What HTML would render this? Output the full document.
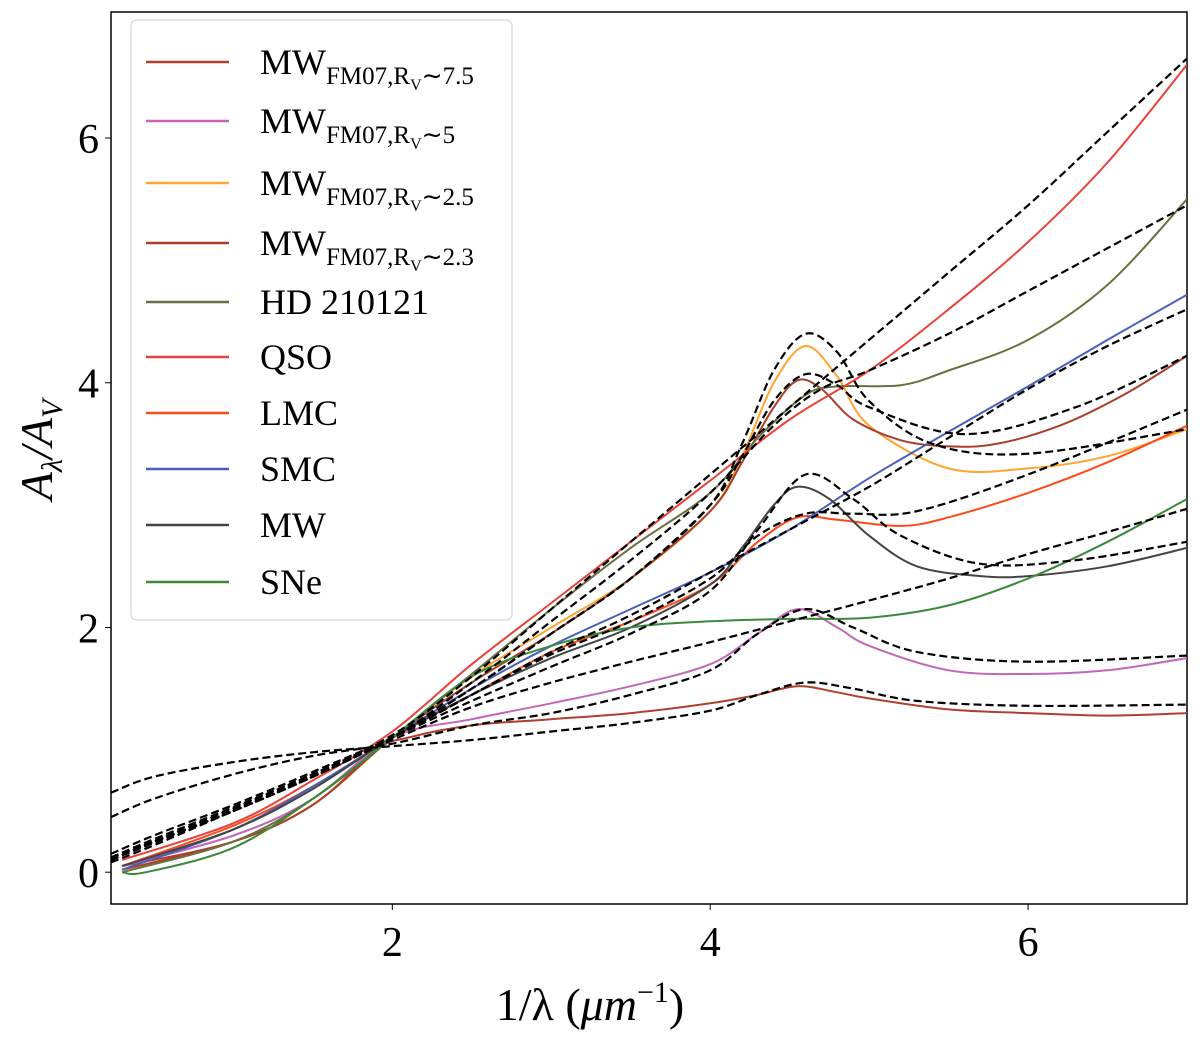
<!DOCTYPE html>
<html><head><meta charset="utf-8"><style>
body{margin:0;background:#fff;}
svg{display:block;font-family:"Liberation Serif",serif;}
</style></head><body>
<svg id="chart" width="1200" height="1043">
<rect x="111" y="12" width="1076" height="892" fill="#fff" stroke="#000" stroke-width="1.5"/>
<g id="curves"></g>
<g id="axes"></g>
<g id="legend"></g>
<text x="590" y="1020" font-size="46" text-anchor="middle">1/λ (<tspan font-style="italic">μm</tspan><tspan font-size="30" dy="-18">−1</tspan><tspan dy="18">)</tspan></text>
<text transform="translate(52,450) rotate(-90)" font-size="46" text-anchor="middle" font-style="italic">A<tspan font-size="30" dy="10">λ</tspan><tspan dy="-10">/A</tspan><tspan font-size="30" dy="10">V</tspan></text>
</svg>
<script>
const xTicks=[2,4,6];
const yTicks=[0,2,4,6];
const names=["MW_FM07_7.5","MW_FM07_5","MW_FM07_2.5","MW_FM07_2.3","HD 210121","QSO","LMC","SMC","MW","SNe"];
const colors=["#b0402e","#c466b8","#ffa530","#a8402b","#6b7040","#e8433a","#fc4a1a","#4a5fb8","#444444","#3a8a3a"];
const s1=[[0.3,0.05],[1,0.25],[1.5,0.55],[1.9,1.0],[2.1,1.1],[2.5,1.2],[3,1.25],[3.5,1.3],[4,1.38],[4.3,1.45],[4.55,1.52],[4.8,1.47],[5,1.42],[5.5,1.33],[6,1.3],[6.5,1.28],[7,1.3]];
const s2=[[0.3,0.05],[1,0.3],[1.5,0.6],[2,1.1],[2.5,1.25],[3,1.38],[3.5,1.52],[4,1.7],[4.3,1.95],[4.55,2.15],[4.8,2.0],[5,1.85],[5.5,1.65],[6,1.62],[6.5,1.65],[7,1.75]];
const s3=[[0.3,0.0],[1,0.25],[1.5,0.55],[2,1.1],[2.5,1.6],[3,2.0],[3.5,2.4],[4,2.95],[4.2,3.4],[4.4,4.0],[4.6,4.3],[4.8,4.05],[5,3.65],[5.5,3.3],[6,3.3],[6.5,3.4],[7,3.62]];
const s4=[[0.3,0.02],[1,0.25],[1.5,0.55],[2,1.1],[2.5,1.55],[3,1.95],[3.5,2.4],[4,2.95],[4.2,3.35],[4.4,3.8],[4.55,4.02],[4.7,3.95],[4.9,3.7],[5.2,3.53],[5.5,3.48],[5.8,3.5],[6.2,3.65],[6.6,3.9],[7,4.22]];
const s5=[[0.3,0.0],[1,0.25],[1.5,0.6],[2,1.1],[2.5,1.62],[3,2.15],[3.5,2.65],[4,3.1],[4.3,3.55],[4.6,3.9],[4.8,3.97],[5.2,3.98],[5.5,4.1],[6,4.35],[6.5,4.8],[7,5.5]];
const s6=[[0.3,0.1],[1,0.4],[1.5,0.75],[2,1.15],[2.5,1.7],[3,2.2],[3.5,2.7],[4,3.2],[4.5,3.7],[5,4.1],[5.5,4.6],[6,5.15],[6.5,5.8],[7,6.6]];
const s7=[[0.3,0.05],[1,0.38],[1.5,0.7],[2,1.1],[2.5,1.45],[3,1.8],[3.5,2.05],[4,2.35],[4.3,2.7],[4.55,2.9],[4.8,2.88],[5.2,2.83],[5.5,2.9],[6,3.1],[6.5,3.35],[7,3.65]];
const s8=[[0.3,0.02],[1,0.35],[1.5,0.7],[2,1.1],[2.5,1.5],[3,1.85],[3.5,2.15],[4,2.45],[4.5,2.8],[5,3.22],[5.5,3.6],[6,3.97],[6.5,4.35],[7,4.72]];
const s9=[[0.3,0.05],[1,0.35],[1.5,0.68],[2,1.1],[2.5,1.45],[3,1.75],[3.5,2.0],[4,2.35],[4.2,2.65],[4.4,3.0],[4.55,3.15],[4.75,3.05],[5,2.75],[5.3,2.5],[5.7,2.42],[6,2.42],[6.5,2.5],[7,2.65]];
const s10=[[0.3,0.0],[0.45,0.0],[1,0.2],[1.5,0.6],[2,1.1],[2.5,1.6],[3,1.85],[3.5,2.0],[4,2.05],[4.5,2.07],[5,2.08],[5.5,2.18],[6,2.4],[6.5,2.7],[7,3.05]];
const d1=[[0.23,0.65],[0.5,0.78],[1,0.9],[1.5,0.98],[2,1.03],[2.5,1.08],[3,1.15],[3.5,1.22],[4,1.32],[4.3,1.45],[4.6,1.55],[4.9,1.5],[5.3,1.4],[6,1.36],[7,1.37]];
const d2=[[0.23,0.45],[0.5,0.6],[1,0.8],[1.5,0.95],[2,1.05],[2.5,1.2],[3,1.3],[3.5,1.45],[4,1.65],[4.3,1.95],[4.6,2.15],[4.9,2.0],[5.3,1.8],[6,1.72],[7,1.77]];
const d3=[[0.23,0.12],[0.5,0.25],[1,0.5],[1.5,0.78],[2,1.1],[2.5,1.5],[3,1.95],[3.5,2.4],[4,3.0],[4.2,3.5],[4.4,4.1],[4.6,4.4],[4.8,4.25],[5,3.85],[5.4,3.5],[6,3.42],[7,3.62]];
const d4=[[0.23,0.1],[0.5,0.24],[1,0.5],[1.5,0.78],[2,1.1],[2.5,1.5],[3,1.95],[3.5,2.4],[4,3.0],[4.2,3.4],[4.4,3.85],[4.6,4.07],[4.8,3.98],[5,3.8],[5.6,3.58],[6.3,3.8],[7,4.22]];
const d5=[[0.23,0.1],[0.5,0.25],[1,0.52],[1.5,0.8],[2,1.1],[2.5,1.55],[3,2.05],[3.5,2.55],[4,3.1],[4.4,3.65],[4.7,3.95],[5,4.1],[5.5,4.4],[6,4.75],[6.5,5.1],[7,5.45]];
const d6=[[0.23,0.15],[0.5,0.3],[1,0.55],[1.5,0.82],[2,1.12],[2.5,1.6],[3,2.15],[3.5,2.7],[4,3.25],[4.5,3.8],[5,4.35],[5.5,4.9],[6,5.45],[6.5,6.05],[7,6.65]];
const d7=[[0.23,0.12],[0.5,0.27],[1,0.53],[1.5,0.8],[2,1.1],[2.5,1.45],[3,1.78],[3.5,2.05],[4,2.4],[4.3,2.75],[4.6,2.93],[4.9,2.93],[5.3,2.95],[6,3.25],[7,3.78]];
const d8=[[0.23,0.1],[0.5,0.25],[1,0.52],[1.5,0.8],[2,1.1],[2.5,1.45],[3,1.8],[3.5,2.1],[4,2.45],[4.5,2.8],[5,3.15],[5.5,3.55],[6,3.95],[6.5,4.3],[7,4.6]];
const d9=[[0.23,0.1],[0.5,0.25],[1,0.52],[1.5,0.8],[2,1.1],[2.5,1.4],[3,1.68],[3.5,1.95],[4,2.3],[4.3,2.8],[4.6,3.25],[4.9,3.05],[5.2,2.75],[5.7,2.52],[6.3,2.55],[7,2.7]];
const d10=[[0.23,0.08],[0.5,0.22],[1,0.5],[1.5,0.78],[2,1.08],[2.5,1.35],[3,1.55],[3.5,1.72],[4,1.88],[4.5,2.05],[5,2.22],[5.5,2.4],[6,2.6],[6.5,2.78],[7,2.97]];
const solid=[s1,s2,s3,s4,s5,s6,s7,s8,s9,s10];
const dashed=[d1,d2,d3,d4,d5,d6,d7,d8,d9,d10];
const X0=0.23,X1=7.0,PX0=111,PX1=1187;
const Y0=-0.26,Y1=7.03,PY0=904,PY1=12;
const sx=v=>PX0+(v-X0)/(X1-X0)*(PX1-PX0);
const sy=v=>PY0+(v-Y0)/(Y1-Y0)*(PY1-PY0);
const NS="http://www.w3.org/2000/svg";
function pathD(pts){
  const p=pts.map(a=>[sx(a[0]),sy(a[1])]);
  let d="M"+p[0][0].toFixed(1)+","+p[0][1].toFixed(1);
  for(let i=0;i<p.length-1;i++){
    const a=p[Math.max(0,i-1)],b=p[i],c=p[i+1],e=p[Math.min(p.length-1,i+2)];
    const c1=[b[0]+(c[0]-a[0])/6,b[1]+(c[1]-a[1])/6];
    const c2=[c[0]-(e[0]-b[0])/6,c[1]-(e[1]-b[1])/6];
    d+=" C"+c1[0].toFixed(1)+","+c1[1].toFixed(1)+" "+c2[0].toFixed(1)+","+c2[1].toFixed(1)+" "+c[0].toFixed(1)+","+c[1].toFixed(1);
  }
  return d;
}
const cg=document.getElementById("curves");
const clip=document.createElementNS(NS,"clipPath");clip.setAttribute("id","cp");
const cr=document.createElementNS(NS,"rect");cr.setAttribute("x",PX0);cr.setAttribute("y",PY1);cr.setAttribute("width",PX1-PX0);cr.setAttribute("height",PY0-PY1);
clip.appendChild(cr);document.getElementById("chart").appendChild(clip);
cg.setAttribute("clip-path","url(#cp)");
solid.forEach((s,i)=>{
  const el=document.createElementNS(NS,"path");
  el.setAttribute("d",pathD(s));el.setAttribute("fill","none");el.setAttribute("stroke",colors[i]);el.setAttribute("stroke-width","2");
  
  
  cg.appendChild(el);
});
dashed.forEach((s,i)=>{
  const el=document.createElementNS(NS,"path");
  el.setAttribute("d",pathD(s));el.setAttribute("fill","none");el.setAttribute("stroke","#000");el.setAttribute("stroke-width","2.2");el.setAttribute("stroke-dasharray","8,4");
  
  
  cg.appendChild(el);
});
const ag=document.getElementById("axes");
xTicks.forEach(t=>{
  const l=document.createElementNS(NS,"line");
  l.setAttribute("x1",sx(t));l.setAttribute("x2",sx(t));l.setAttribute("y1",PY0);l.setAttribute("y2",PY0+6);l.setAttribute("stroke","#000");
  
  
  ag.appendChild(l);
  const tx=document.createElementNS(NS,"text");
  tx.setAttribute("x",sx(t));tx.setAttribute("y",PY0+52);tx.setAttribute("font-size","42");tx.setAttribute("text-anchor","middle");tx.textContent=t;
  
  
  ag.appendChild(tx);
});
yTicks.forEach(t=>{
  const l=document.createElementNS(NS,"line");
  l.setAttribute("x1",PX0-6);l.setAttribute("x2",PX0);l.setAttribute("y1",sy(t));l.setAttribute("y2",sy(t));l.setAttribute("stroke","#000");
  
  
  ag.appendChild(l);
  const tx=document.createElementNS(NS,"text");
  tx.setAttribute("x",PX0-12);tx.setAttribute("y",sy(t)+15);tx.setAttribute("font-size","42");tx.setAttribute("text-anchor","end");tx.textContent=t;
  
  
  ag.appendChild(tx);
});
const lg=document.getElementById("legend");
const box=document.createElementNS(NS,"rect");
box.setAttribute("x",131);box.setAttribute("y",20);box.setAttribute("width",381);box.setAttribute("height",600);box.setAttribute("rx",6);box.setAttribute("fill","#fff");box.setAttribute("fill-opacity","0.85");box.setAttribute("stroke","#ccc");


lg.appendChild(box);
const ly=[62,121,183,243,302,357,413,469,525,582];
const subs=["FM07,R<tspan font-size='16' dy='6'>V</tspan><tspan dy='-6'>∼7.5</tspan>","FM07,R<tspan font-size='16' dy='6'>V</tspan><tspan dy='-6'>∼5</tspan>","FM07,R<tspan font-size='16' dy='6'>V</tspan><tspan dy='-6'>∼2.5</tspan>","FM07,R<tspan font-size='16' dy='6'>V</tspan><tspan dy='-6'>∼2.3</tspan>"];
names.forEach((n,i)=>{
  const g=document.createElementNS(NS,"g");
  
  
  const l=document.createElementNS(NS,"line");
  l.setAttribute("x1",146);l.setAttribute("x2",229);l.setAttribute("y1",ly[i]);l.setAttribute("y2",ly[i]);l.setAttribute("stroke",colors[i]);l.setAttribute("stroke-width","2.5");
  g.appendChild(l);
  const t=document.createElementNS(NS,"text");
  t.setAttribute("x",260);t.setAttribute("y",ly[i]+12);t.setAttribute("font-size","36");
  if(i<4){t.innerHTML="MW<tspan font-size='25' dy='10'>"+subs[i]+"</tspan>";}
  else t.textContent=n;
  g.appendChild(t);
  lg.appendChild(g);
});
</script>
</body></html>
